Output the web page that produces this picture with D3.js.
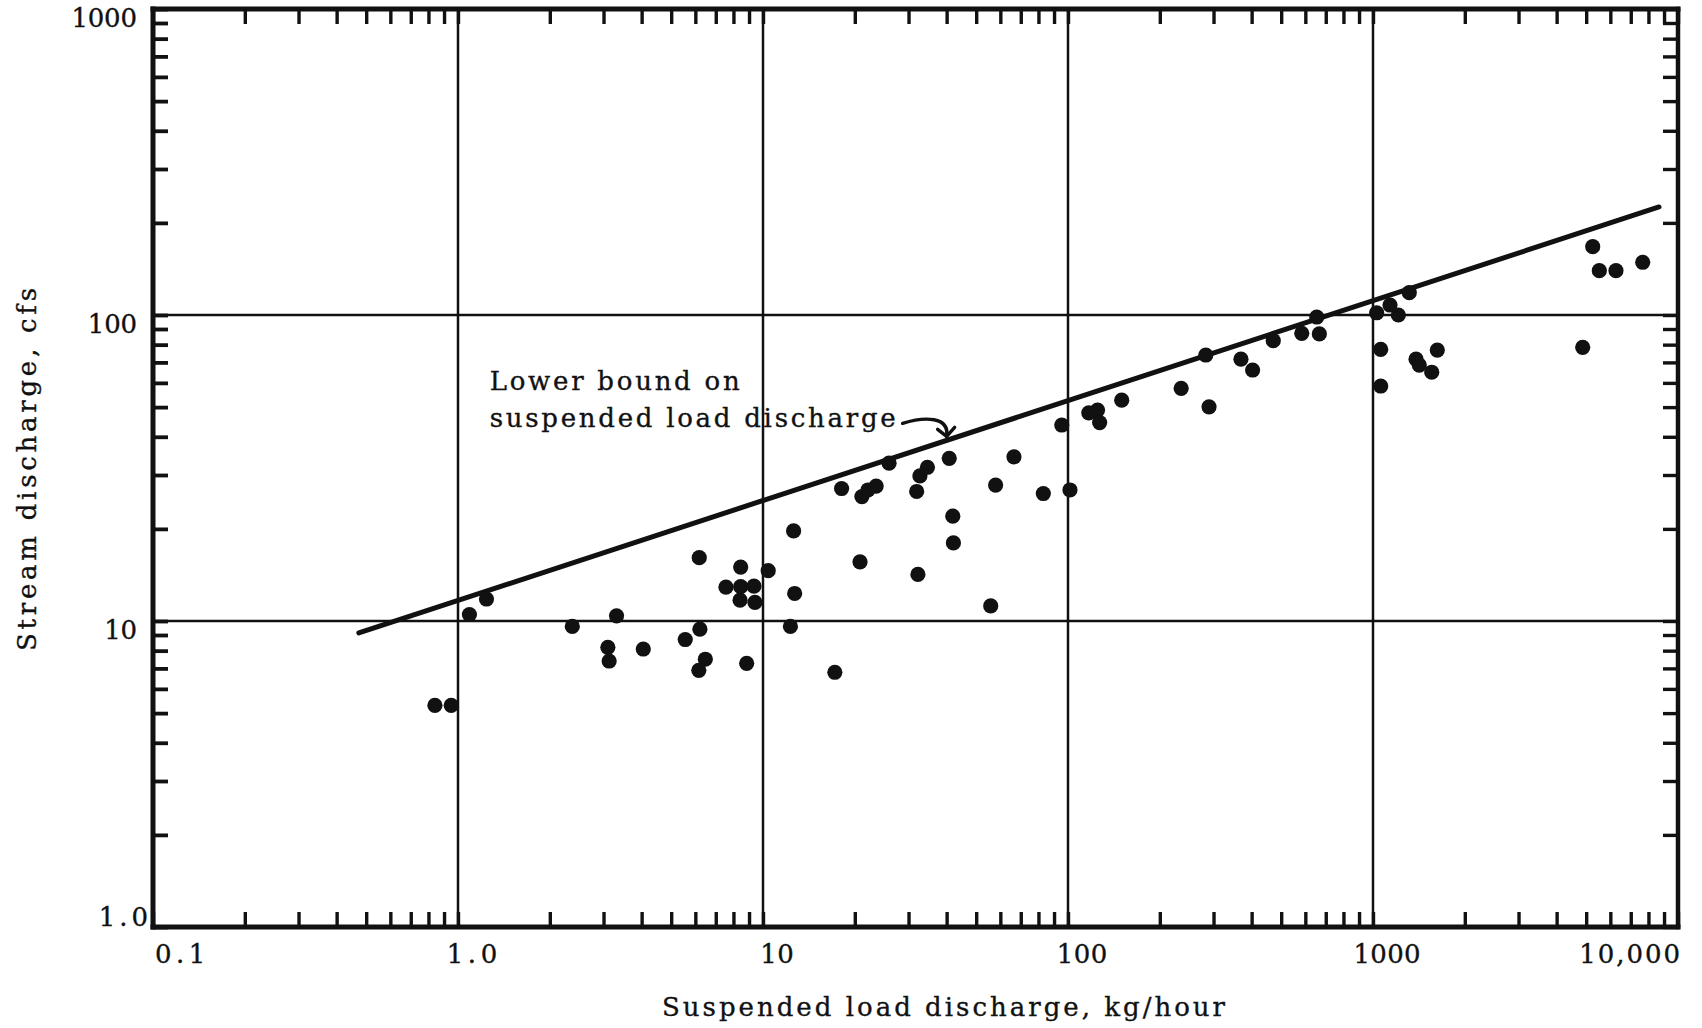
<!DOCTYPE html>
<html>
<head>
<meta charset="utf-8">
<script src="https://cdn.jsdelivr.net/npm/d3@7"></script>
<style>
  html, body { margin: 0; padding: 0; background: #fff; }
  svg { display: block; }
  text { font-family: "DejaVu Serif", serif; fill: #111; stroke: #111; stroke-width: 0.35px; }
</style>
</head>
<body>
<svg id="chart" width="1702" height="1028"></svg>
<script>
// Suspended load discharge (kg/hour) and stream discharge (cfs), one entry per sample
const loadKgHr = [
  0.84, 0.95, 1.09, 1.24, 2.37, 3.31, 3.10, 3.13, 4.05, 5.56,
  6.21, 6.47, 6.16, 6.18, 8.45, 7.56, 8.45, 9.34, 8.41, 9.41,
  8.84, 10.4, 12.7, 12.3, 12.6, 17.2, 18.1, 21.1, 22.1, 23.5,
  25.9, 20.8, 31.9, 32.7, 34.6, 40.8, 32.2, 41.9, 42.1, 57.9,
  66.5, 55.8, 83.0, 101.5, 95.4, 117, 125, 127, 150, 235,
  290, 283, 369, 403, 471, 584, 667, 654, 1028, 1137,
  1211, 1315, 1060, 1625, 1384, 1418, 1558, 1060, 4870, 5253,
  5521, 6261, 7661
];
const flowCfs = [
  5.3, 5.3, 10.5, 11.8, 9.6, 10.4, 8.2, 7.4, 8.1, 8.7,
  9.4, 7.5, 6.9, 16.1, 15.0, 12.9, 12.95, 13.0, 11.7, 11.5,
  7.27, 14.6, 12.3, 9.6, 19.7, 6.8, 27.1, 25.5, 26.8, 27.6,
  32.8, 15.6, 26.5, 29.8, 31.8, 34.0, 14.2, 22.0, 18.0, 27.8,
  34.4, 11.2, 26.1, 26.8, 43.7, 47.9, 48.9, 44.5, 52.7, 57.6,
  50.1, 74.0, 71.7, 66.1, 82.4, 87.1, 86.7, 98.5, 101.7, 107.8,
  100, 118.3, 77.2, 76.8, 71.7, 68.6, 65.0, 58.6, 78.4, 167.2,
  139.6, 139.6, 148.7
];

// Lower bound on suspended load discharge (end points of the straight line)
const boundLoad = [0.473, 8664];
const boundFlow = [9.14, 225.4];

// Axis decades and their printed labels
const xTickValues = [0.1, 1, 10, 100, 1000, 10000];
const xTickLabels = ["0.1", "1.0", "10", "100", "1000", "10,000"];
const yTickValues = [1, 10, 100, 1000];
const yTickLabels = ["1.0", "10", "100", "1000"];

const xTitle = "Suspended load discharge, kg/hour";
const yTitle = "Stream discharge, cfs";
const noteLines = ["Lower bound on", "suspended load discharge"];

const svg = d3.select("#chart");
const plotLeft = 153, plotRight = 1678, plotTop = 9, plotBottom = 927;

const x = d3.scaleLog().domain([0.1, 10000]).range([plotLeft, plotRight]);
const y = d3.scaleLog().domain([1, 1000]).range([plotBottom, plotTop]);

// tick positions: 1..9 within each decade
function logTicks(lo, hi) {
  const out = [];
  for (let d = lo; d < hi * 0.999; d *= 10) {
    for (let k = 1; k <= 9; k++) out.push(k * d);
  }
  out.push(hi);
  return out;
}
const xTicksAll = logTicks(0.1, 10000);
const yTicksAll = logTicks(1, 1000);

// grid lines
const grid = svg.append("g").attr("stroke", "#111").attr("stroke-width", 2.5);
grid.selectAll("line.gx")
  .data(xTickValues.slice(1, -1))
  .join("line")
  .attr("x1", d => x(d)).attr("x2", d => x(d))
  .attr("y1", plotTop).attr("y2", plotBottom);
grid.selectAll("line.gy")
  .data(yTickValues.slice(1, -1))
  .join("line")
  .attr("y1", d => y(d)).attr("y2", d => y(d))
  .attr("x1", plotLeft).attr("x2", plotRight);

// inward ticks on all four sides
function tickAxis(axis, tx, ty, width) {
  const g = svg.append("g")
    .attr("transform", `translate(${tx},${ty})`)
    .call(axis);
  g.select(".domain").remove();
  g.selectAll(".tick line").attr("stroke", "#111").attr("stroke-width", width);
  g.selectAll(".tick text").remove();
}
tickAxis(d3.axisLeft(y).tickValues(yTicksAll).tickSize(-15).tickFormat(""), plotLeft, 0, 3.8);
tickAxis(d3.axisRight(y).tickValues(yTicksAll).tickSize(-15).tickFormat(""), plotRight, 0, 3.4);
tickAxis(d3.axisTop(x).tickValues(xTicksAll).tickSize(-15).tickFormat(""), 0, plotTop, 3.4);
tickAxis(d3.axisBottom(x).tickValues(xTicksAll).tickSize(-15).tickFormat(""), 0, plotBottom, 3.4);

// frame
const frame = svg.append("g").attr("stroke", "#111").attr("stroke-linecap", "square");
frame.append("line").attr("x1", plotLeft).attr("x2", plotLeft).attr("y1", plotTop).attr("y2", plotBottom).attr("stroke-width", 5);
frame.append("line").attr("x1", plotRight).attr("x2", plotRight).attr("y1", plotTop).attr("y2", plotBottom).attr("stroke-width", 4.5);
frame.append("line").attr("x1", plotLeft).attr("x2", plotRight).attr("y1", plotTop).attr("y2", plotTop).attr("stroke-width", 5);
frame.append("line").attr("x1", plotLeft).attr("x2", plotRight).attr("y1", plotBottom).attr("y2", plotBottom).attr("stroke-width", 5);

// lower-bound line
svg.append("line")
  .attr("x1", x(boundLoad[0])).attr("y1", y(boundFlow[0]))
  .attr("x2", x(boundLoad[1])).attr("y2", y(boundFlow[1]))
  .attr("stroke", "#111").attr("stroke-width", 5).attr("stroke-linecap", "round");

// samples
svg.append("g").selectAll("circle")
  .data(loadKgHr.map((v, i) => [v, flowCfs[i]]))
  .join("circle")
  .attr("cx", d => x(d[0]))
  .attr("cy", d => y(d[1]))
  .attr("r", 7.6)
  .attr("fill", "#111");

// x tick labels
svg.append("g").selectAll("text")
  .data(xTickValues)
  .join("text")
  .attr("x", (d, i) => i === 0 ? plotLeft + 2 : i === xTickValues.length - 1 ? plotRight + 2 : x(d) + 14)
  .attr("y", 963)
  .attr("text-anchor", (d, i) => i === 0 ? "start" : i === xTickValues.length - 1 ? "end" : "middle")
  .attr("font-size", 26)
  .attr("textLength", (d, i) => xTickLabels[i].length * 16.8)
  .attr("lengthAdjust", "spacing")
  .text((d, i) => xTickLabels[i]);

// y tick labels
svg.append("g").selectAll("text")
  .data(yTickValues)
  .join("text")
  .attr("x", (d, i) => i === 0 ? 148 : 137)
  .attr("y", (d, i) => i === 0 ? y(d) - 1 : y(d) + 18)
  .attr("text-anchor", "end")
  .attr("font-size", 26)
  .attr("textLength", (d, i) => yTickLabels[i].length * 16.4)
  .attr("lengthAdjust", "spacing")
  .text((d, i) => yTickLabels[i]);

// axis titles
svg.append("text")
  .attr("x", 662).attr("y", 1016)
  .attr("font-size", 26)
  .attr("textLength", 563).attr("lengthAdjust", "spacing")
  .text(xTitle);

svg.append("text")
  .attr("transform", "translate(36,651) rotate(-90)")
  .attr("font-size", 26)
  .attr("textLength", 363).attr("lengthAdjust", "spacing")
  .text(yTitle);

// note on the lower-bound line
const noteX = x(1.27);
const noteY = y(56.9);
const note = svg.append("g").attr("font-size", 26);
note.append("text").attr("x", noteX).attr("y", noteY)
  .attr("textLength", 250).attr("lengthAdjust", "spacing").text(noteLines[0]);
note.append("text").attr("x", noteX).attr("y", noteY + 37)
  .attr("textLength", 406).attr("lengthAdjust", "spacing").text(noteLines[1]);

// curved arrow pointing at the line
const tipLoad = 40;
const tipX = x(tipLoad);
const tipFlow = Math.exp(Math.log(boundFlow[0]) +
  (Math.log(tipLoad) - Math.log(boundLoad[0])) *
  (Math.log(boundFlow[1]) - Math.log(boundFlow[0])) /
  (Math.log(boundLoad[1]) - Math.log(boundLoad[0])));
const tipY = y(tipFlow) - 4;
const arrow = svg.append("g").attr("fill", "none").attr("stroke", "#111")
  .attr("stroke-width", 3.4).attr("stroke-linecap", "round");
arrow.append("path")
  .attr("d", `M${tipX - 44},${tipY - 13} C${tipX - 22},${tipY - 20} ${tipX + 3},${tipY - 20} ${tipX},${tipY}`);
arrow.append("path")
  .attr("d", `M${tipX - 9},${tipY - 7} L${tipX},${tipY} L${tipX + 8},${tipY - 9}`);
</script>
</body>
</html>
